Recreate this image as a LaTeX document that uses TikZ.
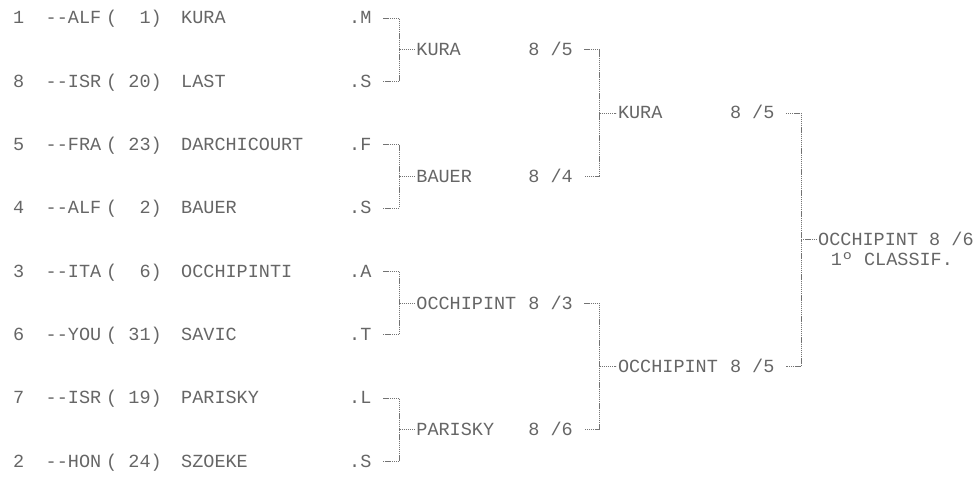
\documentclass[tikz,border=0pt]{standalone}
\usepackage{fontspec}
\newfontfamily\dmfont{Liberation Mono}
\tikzset{
  txt/.style={font=\dmfont\fontsize{18.5}{20}\selectfont, text=black!60, anchor=west,
              inner sep=0pt, text height=12pt, text depth=0pt},
  brk/.style={draw=black!55, line width=0.9pt, dash pattern=on 1.3pt off 0.8pt},
}
\begin{document}
\begin{tikzpicture}[x=1pt,y=-1pt]
\useasboundingbox (0,0) rectangle (977,486);
% entries
\foreach \i/\n/\c/\s/\nm/\mk in {
  0/1/ALF/{(~~1)}/KURA/M,
  1/8/ISR/{(~20)}/LAST/S,
  2/5/FRA/{(~23)}/DARCHICOURT/F,
  3/4/ALF/{(~~2)}/BAUER/S,
  4/3/ITA/{(~~6)}/OCCHIPINTI/A,
  5/6/YOU/{(~31)}/SAVIC/T,
  6/7/ISR/{(~19)}/PARISKY/L,
  7/2/HON/{(~24)}/SZOEKE/S}{
  \node[txt] (n\i) at (13,{18+63.33*\i}) {\n};
  \node[txt] (c\i) at (45.5,{18+63.33*\i}) {--\c};
  \node[txt] (s\i) at (106,{18+63.33*\i}) {\s};
  \node[txt] (p\i) at (181,{18+63.33*\i}) {\nm};
  \node[txt] (m\i) at (349,{18+63.33*\i}) {.\mk};
}
% first round winners
\foreach \j/\w/\sc in {0/KURA/{8 /5},1/BAUER/{8 /4},2/OCCHIPINT/{8 /3},3/PARISKY/{8 /6}}{
  \node[txt] (w\j) at (416.2,{49.7+126.67*\j}) {\w};
  \node[txt] (ws\j) at (528.2,{49.7+126.67*\j}) {\sc};
  \coordinate (v\j) at (399.4,{49.7+126.67*\j});
}
\foreach \j/\a/\b in {0/0/1,1/2/3,2/4/5,3/6/7}{
  \draw[brk] ([xshift=11.6pt]m\a.east) -| (v\j) |- ([xshift=11.6pt]m\b.east);
  \draw[brk] (v\j) -- ([xshift=-1.5pt]w\j.west);
}
% second round winners
\foreach \k/\w/\sc in {0/KURA/{8 /5},1/OCCHIPINT/{8 /5}}{
  \node[txt] (x\k) at (617.8,{113+253.33*\k}) {\w};
  \node[txt] (xs\k) at (729.8,{113+253.33*\k}) {\sc};
  \coordinate (u\k) at (599.5,{113+253.33*\k});
}
\foreach \k/\a/\b in {0/0/1,1/2/3}{
  \draw[brk] ([xshift=11.2pt]ws\a.east) -| (u\k) |- ([xshift=11.2pt]ws\b.east);
  \draw[brk] (u\k) -- ([xshift=-1.5pt]x\k.west);
}
% final
\node[txt] (fin) at (818,239.7) {OCCHIPINT 8 /6};
\node[txt] (cls) at (830.6,260) {1º CLASSIF.};
\coordinate (vf) at (801,239.7);
\draw[brk] ([xshift=11.2pt]xs0.east) -| (vf) |- ([xshift=11.2pt]xs1.east);
\draw[brk] (vf) -- ([xshift=-1.5pt]fin.west);
\end{tikzpicture}
\end{document}
